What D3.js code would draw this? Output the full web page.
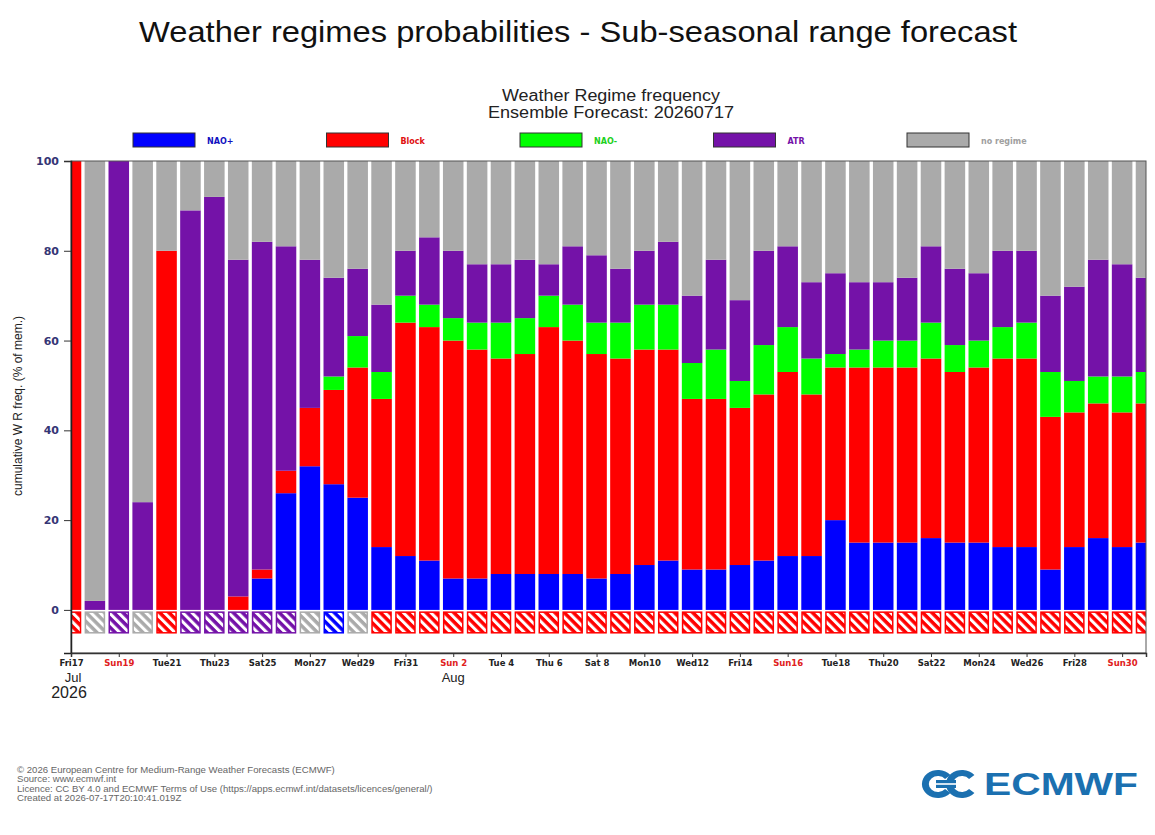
<!DOCTYPE html>
<html>
<head>
<meta charset="utf-8">
<script src="https://cdn.jsdelivr.net/npm/d3@7"></script>
<style>
  body { margin: 0; background: #fff; }
  svg { display: block; font-family: "Liberation Sans", Arial, sans-serif; }
</style>
</head>
<body>
<div id="chart"></div>
<script>
// forecast days, Jul 17 .. Aug 31 2026
const dates = ["Jul 17", "Jul 18", "Jul 19", "Jul 20", "Jul 21", "Jul 22", "Jul 23", "Jul 24", "Jul 25", "Jul 26",
    "Jul 27", "Jul 28", "Jul 29", "Jul 30", "Jul 31", "Aug 1", "Aug 2", "Aug 3", "Aug 4", "Aug 5",
    "Aug 6", "Aug 7", "Aug 8", "Aug 9", "Aug 10", "Aug 11", "Aug 12", "Aug 13", "Aug 14", "Aug 15",
    "Aug 16", "Aug 17", "Aug 18", "Aug 19", "Aug 20", "Aug 21", "Aug 22", "Aug 23", "Aug 24", "Aug 25",
    "Aug 26", "Aug 27", "Aug 28", "Aug 29", "Aug 30", "Aug 31"];

// % of members in each regime
const naoPlus = [0, 0, 0, 0, 0, 0, 0, 0, 7, 26, 32, 28, 25, 14, 12, 11, 7, 7, 8, 8,
    8, 8, 7, 8, 10, 11, 9, 9, 10, 11, 12, 12, 20, 15, 15, 15, 16, 15, 15, 14,
    14, 9, 14, 16, 14, 15];
const block = [100, 0, 0, 0, 80, 0, 0, 3, 2, 5, 13, 21, 29, 33, 52, 52, 53, 51, 48, 49,
    55, 52, 50, 48, 48, 47, 38, 38, 35, 37, 41, 36, 34, 39, 39, 39, 40, 38, 39, 42,
    42, 34, 30, 30, 30, 31];
const naoMinus = [0, 0, 0, 0, 0, 0, 0, 0, 0, 0, 0, 3, 7, 6, 6, 5, 5, 6, 8, 8,
    7, 8, 7, 8, 10, 10, 8, 11, 6, 11, 10, 8, 3, 4, 6, 6, 8, 6, 6, 7,
    8, 10, 7, 6, 8, 7];
const atr = [0, 2, 100, 24, 0, 89, 92, 75, 73, 50, 33, 22, 15, 15, 10, 15, 15, 13, 13, 13,
    7, 13, 15, 12, 12, 14, 15, 20, 18, 21, 18, 17, 18, 15, 13, 14, 17, 17, 15, 17,
    16, 17, 21, 26, 25, 21];
const noRegime = [0, 98, 0, 76, 20, 11, 8, 22, 18, 19, 22, 26, 24, 32, 20, 17, 20, 23, 23, 22,
    23, 19, 21, 24, 20, 18, 30, 22, 31, 20, 19, 27, 25, 27, 27, 26, 19, 24, 25, 20,
    20, 30, 28, 22, 23, 26];

// regime shown in the hatched strip under each bar
const dominant = ["Block", "no regime", "ATR", "no regime", "Block", "ATR", "ATR", "ATR", "ATR", "ATR",
    "no regime", "NAO+", "no regime", "Block", "Block", "Block", "Block", "Block", "Block", "Block",
    "Block", "Block", "Block", "Block", "Block", "Block", "Block", "Block", "Block", "Block",
    "Block", "Block", "Block", "Block", "Block", "Block", "Block", "Block", "Block", "Block",
    "Block", "Block", "Block", "Block", "Block", "Block"];

const tickLabels = ["Fri17", "Sun19", "Tue21", "Thu23", "Sat25", "Mon27", "Wed29", "Fri31", "Sun 2", "Tue 4",
    "Thu 6", "Sat 8", "Mon10", "Wed12", "Fri14", "Sun16", "Tue18", "Thu20", "Sat22", "Mon24",
    "Wed26", "Fri28", "Sun30"];
const yTicks = [0, 20, 40, 60, 80, 100];

const regimes = ["NAO+", "Block", "NAO-", "ATR", "no regime"];
const regimeColors = ["#0000ff", "#ff0000", "#00ff00", "#7412a8", "#aaaaaa"];
const legendLabelColors = ["#1010c0", "#e01010", "#20d020", "#7412a8", "#a0a0a0"];

const footer = [
    "\u00a9 2026 European Centre for Medium-Range Weather Forecasts (ECMWF)",
    "Source: www.ecmwf.int",
    "Licence: CC BY 4.0 and ECMWF Terms of Use (https://apps.ecmwf.int/datasets/licences/general/)",
    "Created at 2026-07-17T20:10:41.019Z"
];

const W = 1155, H = 835;
const plot = { left: 71, right: 1146, top: 161, bottom: 653 };

const svg = d3.select("#chart").append("svg")
    .attr("width", W)
    .attr("height", H);

const color = d3.scaleOrdinal().domain(regimes).range(regimeColors);

const x = d3.scaleLinear()
    .domain([0, dates.length - 1])
    .range([plot.left, plot.right]);
const y = d3.scaleLinear()
    .domain([-9.6, 100])
    .range([plot.bottom, plot.top]);

const step = x(1) - x(0);
const barW = step * 0.86;

// table for the stack
const table = dates.map((d, i) => ({
    date: d, i: i,
    "NAO+": naoPlus[i], "Block": block[i], "NAO-": naoMinus[i], "ATR": atr[i], "no regime": noRegime[i]
}));
const series = d3.stack().keys(regimes)(table);

// titles
svg.append("text")
    .attr("x", 578).attr("y", 42)
    .attr("text-anchor", "middle")
    .attr("textLength", 878)
    .attr("lengthAdjust", "spacingAndGlyphs")
    .style("font-size", "29px")
    .attr("fill", "#111")
    .text("Weather regimes probabilities - Sub-seasonal range forecast");

svg.append("text")
    .attr("x", 611).attr("y", 101)
    .attr("text-anchor", "middle")
    .attr("textLength", 218)
    .attr("lengthAdjust", "spacingAndGlyphs")
    .style("font-size", "16px")
    .attr("fill", "#222")
    .text("Weather Regime frequency");
svg.append("text")
    .attr("x", 611).attr("y", 118)
    .attr("text-anchor", "middle")
    .attr("textLength", 246)
    .attr("lengthAdjust", "spacingAndGlyphs")
    .style("font-size", "16px")
    .attr("fill", "#222")
    .text("Ensemble Forecast: 20260717");

// legend
const legend = svg.append("g").attr("transform", "translate(133,133)");
regimes.forEach((r, k) => {
    const g = legend.append("g").attr("transform", `translate(${k * 193.5},0)`);
    g.append("rect")
        .attr("width", 62).attr("height", 14)
        .attr("fill", color(r))
        .attr("stroke", "#333").attr("stroke-width", 1);
    g.append("text")
        .attr("x", 74).attr("y", 10.5)
        .style("font-family", "'DejaVu Sans', sans-serif")
        .style("font-size", "8px")
        .style("font-weight", "bold")
        .attr("fill", legendLabelColors[k])
        .text(r);
});

// hatch patterns for the dominant-regime strip
const defs = svg.append("defs");
regimes.forEach((r, k) => {
    const p = defs.append("pattern")
        .attr("id", "hatch" + k)
        .attr("patternUnits", "userSpaceOnUse")
        .attr("width", 6.5).attr("height", 6.5)
        .attr("patternTransform", "rotate(-45)");
    p.append("rect").attr("width", 6.5).attr("height", 6.5).attr("fill", color(r));
    p.append("rect").attr("width", 3).attr("height", 6.5).attr("fill", "#fff");
});
defs.append("clipPath").attr("id", "plotClip")
    .append("rect")
    .attr("x", plot.left).attr("y", plot.top)
    .attr("width", plot.right - plot.left)
    .attr("height", plot.bottom - plot.top);

const bars = svg.append("g").attr("clip-path", "url(#plotClip)");

bars.selectAll("g.layer")
    .data(series)
    .join("g")
    .attr("class", "layer")
    .attr("fill", d => color(d.key))
    .selectAll("rect")
    .data(d => d.filter(s => s[1] > s[0]))
    .join("rect")
    .attr("x", d => x(d.data.i) - barW / 2)
    .attr("width", barW)
    .attr("y", d => y(d[1]))
    .attr("height", d => y(d[0]) - y(d[1]));

bars.selectAll("rect.dom")
    .data(dominant)
    .join("rect")
    .attr("class", "dom")
    .attr("x", (d, i) => x(i) - barW / 2 + 0.75)
    .attr("width", barW - 1.5)
    .attr("y", y(-0.5))
    .attr("height", y(-5.1) - y(-0.5))
    .attr("fill", d => "url(#hatch" + regimes.indexOf(d) + ")")
    .attr("stroke", d => color(d))
    .attr("stroke-width", 1.5);

// frame
svg.append("rect")
    .attr("x", plot.left).attr("y", plot.top)
    .attr("width", plot.right - plot.left)
    .attr("height", plot.bottom - plot.top)
    .attr("fill", "none")
    .attr("stroke", "#555").attr("stroke-width", 1);

// y axis
const yAxis = svg.append("g")
    .attr("transform", `translate(${plot.left},0)`)
    .call(d3.axisLeft(y).tickValues(yTicks).tickSize(7).tickPadding(5));
yAxis.select(".domain").attr("stroke", "#222").attr("stroke-width", 1.5);
yAxis.selectAll(".tick line").attr("stroke", "#333");
yAxis.selectAll(".tick text")
    .style("font-family", "'DejaVu Sans', sans-serif")
    .style("font-size", "11px")
    .style("font-weight", "bold")
    .attr("fill", "#353575");

svg.append("text")
    .attr("transform", "translate(22,406) rotate(-90)")
    .attr("text-anchor", "middle")
    .style("font-size", "12px")
    .attr("fill", "#222")
    .text("cumulative W R freq. (% of mem.)");

// x axis, every second day
const xTickVals = tickLabels.map((t, k) => k * 2);
const xAxis = svg.append("g")
    .attr("transform", `translate(0,${plot.bottom})`)
    .call(d3.axisBottom(x).tickValues(xTickVals).tickSize(4).tickPadding(3)
        .tickFormat((d, k) => tickLabels[k]));
xAxis.select(".domain").attr("stroke", "#333").attr("stroke-width", 1.5);
xAxis.selectAll(".tick line").attr("stroke", "#333");
xAxis.selectAll(".tick text")
    .style("font-family", "'DejaVu Sans', sans-serif")
    .style("font-size", "8.5px")
    .style("font-weight", "bold")
    .attr("fill", (d, k) => tickLabels[k].startsWith("Sun") ? "#e02020" : "#222");

svg.append("text")
    .attr("x", x(0) + 2).attr("y", 682)
    .attr("text-anchor", "middle")
    .style("font-size", "13px").attr("fill", "#222")
    .text("Jul");
svg.append("text")
    .attr("x", x(0) - 2).attr("y", 698)
    .attr("text-anchor", "middle")
    .style("font-size", "16px").attr("fill", "#222")
    .text("2026");
svg.append("text")
    .attr("x", x(16)).attr("y", 682)
    .attr("text-anchor", "middle")
    .style("font-size", "13px").attr("fill", "#222")
    .text("Aug");

// footer
svg.append("g").selectAll("text")
    .data(footer)
    .join("text")
    .attr("x", 17)
    .attr("y", (d, k) => 773 + k * 9.3)
    .style("font-size", "9.6px")
    .attr("fill", "#666")
    .text(d => d);

// ECMWF logo
const logo = svg.append("g").attr("transform", "translate(922,770)");
const logoBlue = "#1b70b0";
const arcC = d3.arc().innerRadius(8).outerRadius(14)
    .startAngle(Math.PI * 0.72).endAngle(Math.PI * 2.28);
logo.append("path").attr("d", arcC()).attr("fill", logoBlue)
    .attr("transform", "translate(16,14) scale(1.15,1)");
logo.append("path").attr("d", arcC()).attr("fill", logoBlue)
    .attr("transform", "translate(40,14) scale(1.15,1)");
logo.append("rect").attr("x", 14).attr("y", 10).attr("width", 20).attr("height", 8).attr("fill", logoBlue);
logo.append("rect").attr("x", 10).attr("y", 13.2).attr("width", 28).attr("height", 1.6).attr("fill", "#fff");
logo.append("text")
    .attr("x", 62).attr("y", 25)
    .attr("textLength", 154)
    .attr("lengthAdjust", "spacingAndGlyphs")
    .style("font-size", "31px")
    .style("font-weight", "bold")
    .attr("fill", logoBlue)
    .text("ECMWF");
</script>
</body>
</html>
